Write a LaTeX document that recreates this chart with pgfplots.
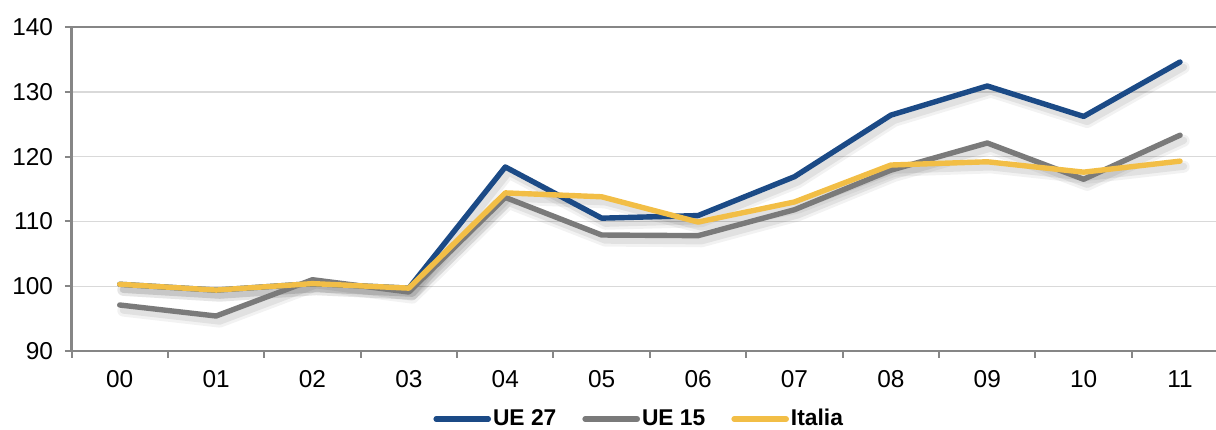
\documentclass[border=0pt]{standalone}
\usepackage{fontspec}
\setmainfont{Liberation Sans}
\usepackage{pgfplots}
\pgfplotsset{compat=1.18}
\definecolor{ueblue}{HTML}{1B4A86}
\definecolor{uegray}{HTML}{7A7A7A}
\definecolor{ityellow}{HTML}{F2BE46}
\definecolor{axgray}{HTML}{868686}
\definecolor{gridgray}{HTML}{D9D9D9}
\begin{document}
\begin{tikzpicture}
\fontsize{11.4bp}{13.5bp}\selectfont
\begin{axis}[
  name=ax,
  scale only axis,
  width=572.25bp, height=162bp,
  xmin=-0.5, xmax=11.373,
  ymin=90, ymax=140,
  ytick={90,100,...,140},
  xtick={-0.5,0.5,...,10.5},
  xticklabels={},
  extra x ticks={0,...,11},
  extra x tick labels={00,01,02,03,04,05,06,07,08,09,10,11},
  extra x tick style={major tick length=0pt},
  xtick pos=left,
  ytick pos=left,
  axis x line=box,
  axis y line=left,
  axis line style={-, draw=axgray, line width=1.1bp},
  tick align=outside,
  major tick length=3.3bp,
  tick style={draw=axgray, line width=1bp},
  ymajorgrids,
  major grid style={draw=gridgray, line width=0.7bp},
  /pgf/number format/assume math mode=true,
  ticklabel style={font=\fontsize{12.2bp}{14bp}\selectfont},
  yticklabel style={anchor=east, inner sep=0pt, xshift=-5.75bp},
  xticklabel style={anchor=center, inner sep=0pt, yshift=-14bp},
  legend columns=3,
  legend style={at={(rel axis cs:0.496,-0.21)}, anchor=center, draw=none, fill=none,
    font=\bfseries\fontsize{11.4bp}{13.5bp}\selectfont,
    nodes={inner sep=1bp},
    /tikz/every even column/.append style={column sep=12bp}},
  legend image code/.code={\draw[#1, line width=2.8bp, line cap=round] (0bp,0bp) -- (26bp,0bp);},
  every axis plot/.append style={line join=round, line cap=round},
]
% soft shadows
\addplot[forget plot, draw=black, opacity=0.05, line width=6bp, shift={(1.8bp,-2.8bp)}] coordinates {
(0,100.3) (1,99.4) (2,100.4) (3,99.7) (4,118.4) (5,110.5) (6,110.9) (7,116.9) (8,126.4) (9,130.9) (10,126.2) (11,134.6)};
\addplot[forget plot, draw=black, opacity=0.07, line width=3.5bp, shift={(1.8bp,-2.6bp)}] coordinates {
(0,100.3) (1,99.4) (2,100.4) (3,99.7) (4,118.4) (5,110.5) (6,110.9) (7,116.9) (8,126.4) (9,130.9) (10,126.2) (11,134.6)};
\addplot[forget plot, draw=black, opacity=0.05, line width=6bp, shift={(1.8bp,-2.8bp)}] coordinates {
(0,97.1) (1,95.4) (2,101.0) (3,99.1) (4,113.7) (5,107.9) (6,107.8) (7,111.8) (8,117.9) (9,122.1) (10,116.5) (11,123.3)};
\addplot[forget plot, draw=black, opacity=0.07, line width=3.5bp, shift={(1.8bp,-2.6bp)}] coordinates {
(0,97.1) (1,95.4) (2,101.0) (3,99.1) (4,113.7) (5,107.9) (6,107.8) (7,111.8) (8,117.9) (9,122.1) (10,116.5) (11,123.3)};
\addplot[forget plot, draw=black, opacity=0.05, line width=6bp, shift={(1.8bp,-2.8bp)}] coordinates {
(0,100.3) (1,99.4) (2,100.4) (3,99.7) (4,114.4) (5,113.8) (6,109.9) (7,113.0) (8,118.7) (9,119.2) (10,117.6) (11,119.3)};
\addplot[forget plot, draw=black, opacity=0.07, line width=3.5bp, shift={(1.8bp,-2.6bp)}] coordinates {
(0,100.3) (1,99.4) (2,100.4) (3,99.7) (4,114.4) (5,113.8) (6,109.9) (7,113.0) (8,118.7) (9,119.2) (10,117.6) (11,119.3)};
% series
\addplot[draw=ueblue, line width=2.7bp] coordinates {
(0,100.3) (1,99.4) (2,100.4) (3,99.7) (4,118.4) (5,110.5) (6,110.9) (7,116.9) (8,126.4) (9,130.9) (10,126.2) (11,134.6)};
\addlegendentry{UE 27}
\addplot[draw=uegray, line width=2.7bp] coordinates {
(0,97.1) (1,95.4) (2,101.0) (3,99.1) (4,113.7) (5,107.9) (6,107.8) (7,111.8) (8,117.9) (9,122.1) (10,116.5) (11,123.3)};
\addlegendentry{UE 15}
\addplot[draw=ityellow, line width=2.7bp] coordinates {
(0,100.3) (1,99.4) (2,100.4) (3,99.7) (4,114.4) (5,113.8) (6,109.9) (7,113.0) (8,118.7) (9,119.2) (10,117.6) (11,119.3)};
\addlegendentry{Italia}
\end{axis}
\pgfresetboundingbox
\path[use as bounding box] (ax.south west) ++(-35.75bp,-39.5bp) rectangle ++(608bp,215bp);
\end{tikzpicture}
\end{document}
